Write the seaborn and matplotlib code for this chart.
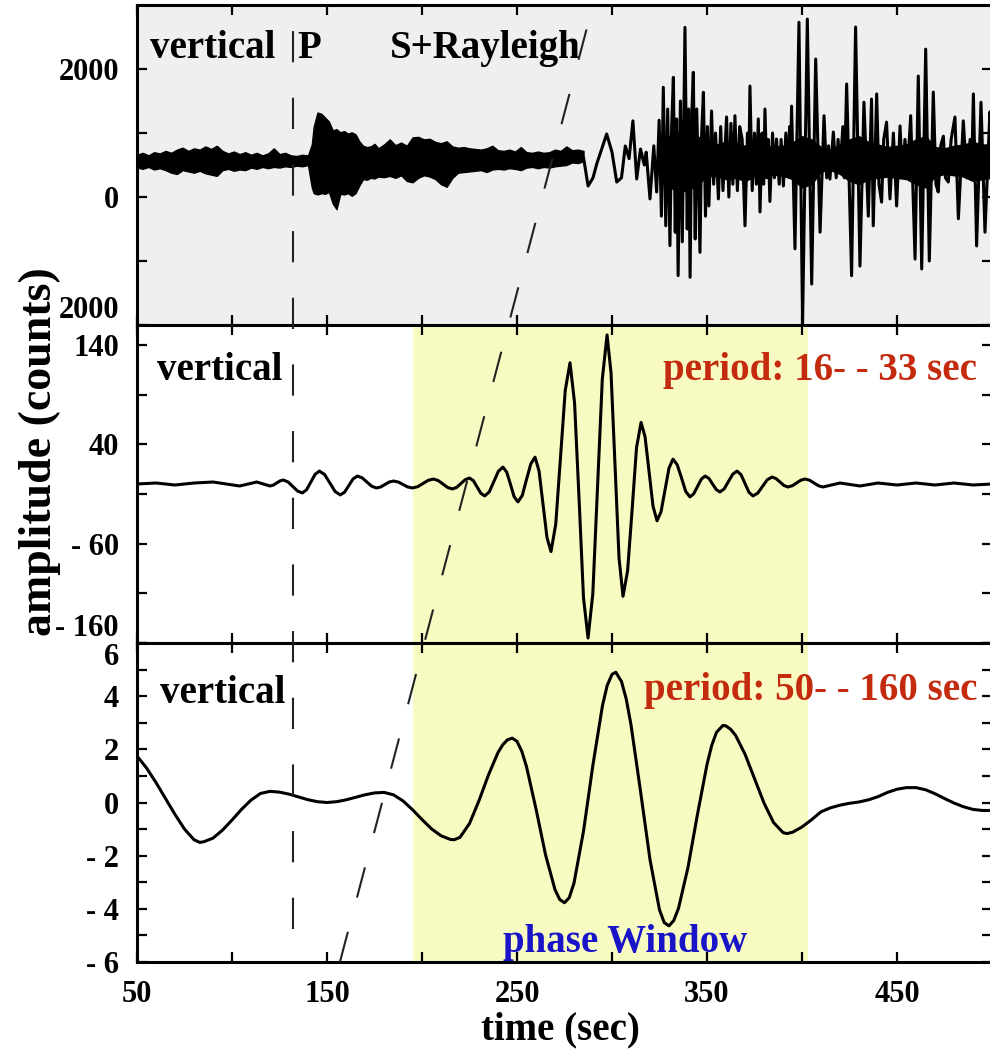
import matplotlib
matplotlib.use("Agg")
import matplotlib.pyplot as plt
import pandas as pd
import seaborn as sns

# ---------------- data ----------------
# top panel: noisy pre-event / P-coda band (envelope, counts)
noise_t = [50, 53, 56, 59, 62, 65, 68, 71, 74, 77, 80, 83, 86, 89, 92, 95, 98, 101, 104, 107,
           110, 113, 116, 119, 122, 125, 128, 131, 134, 137, 140, 142, 143, 145, 147, 149, 151,
           153, 155, 157, 159, 161, 163, 165, 167, 169, 171, 173, 175, 177, 180, 183, 186, 189,
           192, 195, 198, 201, 204, 207, 210, 213, 216, 219, 222, 225, 228, 231, 234, 237, 240,
           243, 246, 249, 252, 255, 258, 261, 264, 267, 270, 273, 276, 279, 282, 285]
noise_upper = [660, 690, 650, 700, 680, 720, 690, 740, 770, 720, 760, 740, 790, 750, 800, 720,
               680, 710, 670, 700, 660, 690, 650, 680, 760, 670, 690, 650, 640, 660, 650, 820,
               1100, 1320, 1300, 1240, 1180, 1040, 1060, 1010, 1030, 990, 1010, 980, 870, 800,
               780, 790, 830, 760, 820, 900, 810, 850, 800, 930, 940, 900, 910, 860, 840, 870,
               790, 770, 780, 760, 750, 740, 760, 800, 730, 720, 740, 710, 780, 700, 690, 710,
               690, 700, 740, 720, 790, 730, 740, 720]
noise_lower = [460, 440, 470, 430, 450, 420, 380, 360, 420, 400, 380, 410, 370, 350, 330, 420,
               440, 410, 430, 420, 460, 440, 470, 450, 470, 460, 480, 470, 490, 480, 500, 150,
               60, 40, 60, 50, 80, -100, -190, 50, 40, 60, 20, 60, 180, 280, 270, 300, 290, 320,
               310, 330, 300, 340, 250, 230, 300, 340, 320, 280, 200, 160, 300, 380, 390, 400,
               410, 420, 390, 430, 440, 430, 450, 440, 420, 460, 470, 450, 470, 460, 480, 490,
               500, 540, 530, 560]

# top panel: dense core of the surface-wave part (counts)
core_t = [325, 330, 335, 340, 345, 350, 355, 360, 365, 370, 375, 380, 385, 390, 395, 400, 405,
          410, 415, 420, 425, 430, 435, 440, 445, 450, 455, 460, 465, 470, 475, 480, 485, 490,
          495, 500]
core_upper = [850, 950, 1000, 1000, 950, 850, 820, 860, 840, 800, 860, 820, 780, 800, 850,
              950, 900, 780, 740, 820, 900, 950, 860, 820, 780, 800, 820, 900, 950, 780,
              760, 800, 820, 860, 820, 820]
core_lower = [250, 150, 100, 100, 200, 320, 330, 280, 300, 250, 320, 300, 350, 330, 280, 150,
              200, 400, 420, 360, 250, 200, 280, 300, 320, 300, 280, 200, 150, 320, 360, 340,
              320, 250, 280, 300]

# top panel: surface-wave trace, successive peaks / troughs (time s, counts)
raw_t = [285, 287.4, 290, 292, 294, 297.2, 300, 302.5, 305, 307, 309, 311, 313, 315, 317, 318,
         320, 322, 323.5, 324.8, 326.0, 327.0, 328.3, 329.3, 330.5, 331.4, 332.3, 333.3, 334.0,
         334.8, 336.0, 337.0, 338.4, 339.6, 340.3, 341.1, 342.0, 342.8, 343.8, 344.6, 346.3,
         347.2, 348.1, 349.2, 350.2, 351.0, 352.4, 353.5, 354.5, 356.0, 357.2, 358.4, 360.3,
         361.5, 362.6, 363.6, 364.7, 366.0, 367.2, 368.5, 370.0, 371.3, 372.0, 372.6, 373.8,
         375.0, 376.0, 377.0, 377.9, 379.0, 379.8, 380.5, 381.5, 382.2, 383.1, 384.5, 385.5,
         386.6, 388.0, 389.0, 390.2, 391.5, 392.5, 393.5, 394.0, 394.5, 396.3, 398.4, 400.3,
         402.8, 405.1, 407.2, 409.5, 411.6, 413.0, 414.0, 414.7, 416.5, 418.0, 419.0, 420.0,
         421.5, 422.3, 423.5, 426.1, 428.2, 430.5, 432.6, 434.9, 436.6, 437.5, 439.3, 440.5,
         441.9, 443.0, 444.5, 446.3, 448.1, 449.8, 451.6, 452.8, 454.2, 455.5, 457.2, 459.5,
         461.2, 463.0, 465.1, 467.0, 469.1, 470.5, 471.7, 473.0, 474.4, 475.5, 477.0, 478.5,
         480.5, 482.3, 484.9, 486.7, 488.5, 489.3, 490.2, 491.9, 494.2, 496.3, 498.9, 500]
raw_v = [620, 172, 300, 520, 700, 984, 700, 234, 300, 797, 600, 1190, 281, 750, 500, 700,
         -30, 800, 78, 1200, -300, 1714, -450, 1375, -760, 1100, 1870, -552, 1219,
         -1229, 1500, -700, 2651, -500, 1375, -1255, 1300, 1948, -656, 1375, -865,
         1000, 1636, -300, 1100, -140, 1344, 200, 1000, -30, 1100, 100, 1250,
         0, 1150, 200, 1270, 100, 1100, 900, -450, 1000, 300, 1734, 100,
         1000, 200, 1220, -234, 1000, 200, 1375, 300, 900, -70, 1000, 300,
         906, 200, 900, 172, 1000, 400, 1100, 500, 1420, -810, 2730, -1980,
         2780, -1360, 2156, -550, 1270, 300, 800, 280, 1015, 300, 900, 390,
         1100, 300, 1766, -1230, 2656, -1080, 1480, -300, 1530, -450, 1610, 200,
         -80, 900, 1170, -30, 1000, -140, 1110, 300, 900, 400, 1270, -970,
         1890, -1125, 2310, -1000, 1640, 200, 78, 800, 950, 300, 234, 900,
         1250, -340, 1190, 300, 900, 400, 1610, -765, 1480, -550, 1330, 400]

# middle panel: 16-33 s band-passed trace
mid_t = [50, 60, 70, 80, 90, 104, 113, 120, 121.75, 123.5, 125.25, 127, 129.5, 132, 134.5,
         137, 139.25, 141.5, 143.75, 146, 148.75, 151.5, 154.25, 157, 159.25, 161.5, 163.75,
         166, 168.5, 171, 173.5, 176, 178.25, 180.5, 182.75, 185, 187.5, 190, 192.5, 195,
         197.75, 200.5, 203.25, 206, 208.5, 211, 213.5, 216, 218.25, 220.5, 222.75, 225, 227,
         229, 231, 233, 235.4, 237.8, 240.2, 242.6, 244.6, 246.6, 248.5, 250.5, 252.8, 255,
         257.3, 259.5, 261.6, 263.7, 265.8, 267.9, 270.4, 272.9, 275.4, 277.9, 280.3, 282.7,
         285, 287.4, 289.9, 292.4, 294.9, 297.4, 299.5, 301.6, 303.7, 305.8, 308.2, 310.6,
         312.9, 315.3, 317.4, 319.5, 321.6, 323.7, 325.8, 327.9, 330, 332.1, 334.3, 336.6,
         338.8, 341, 343, 345, 347, 349, 351, 352.9, 354.9, 356.8, 359.05, 361.3, 363.55,
         365.8, 367.9, 370, 372.1, 374.2, 376.7, 379.2, 381.7, 384.2, 386.3, 388.4, 390.5,
         392.6, 394.85, 397.1, 399.35, 401.6, 404, 406.3, 408.7, 411, 420, 430.5, 440, 450,
         460, 470, 480, 490, 500]
mid_v = [0, 1, -1, 1, 2, -2, 2, -2, -1.1, 1, 3.1, 4, 2.1, -2.5, -7.1, -9, -5.8, 2, 9.8, 13,
         9.5, 1, -7.5, -11, -8.2, -1.5, 5.2, 8, 6.2, 2, -2.2, -4, -3, -0.5, 2, 3, 2, -0.5, -3,
         -4, -2.7, 0.5, 3.7, 5, 3.5, 0, -3.5, -5, -3.4, 0.5, 4.4, 6, 3.4, -3, -9.4, -12, -8,
         2.5, 12.8, 17, 11.9, -0.5, -12.9, -18, -11.4, 4.5, 20.4, 27, 13.1, -20.5, -54.1, -68,
         -40.3, 27, 94.3, 122, 81.6, -16.5, -114.6, -155, -110.5, -2.5, 105.5, 150, 111.6,
         18.5, -74.6, -113, -87.4, -25.5, 36.5, 62, 47.5, 12.5, -22.5, -37, -28, -6, 16, 25,
         19.5, 6, -7.5, -13, -9.9, -2.5, 4.9, 8, 5.7, 0, -5.7, -8, -4.9, 2.5, 9.9, 13, 9.4,
         0.5, -8.4, -12, -9.2, -2.5, 4.2, 7, 5.5, 2, -1.5, -3, -1.8, 1, 3.8, 5, 3.8, 1, -1.8,
         -3, 1, -2, 1, -1, 1, -1, 1, -1, 0]

# bottom panel: 50-160 s band-passed trace
low_t = [50, 55, 60, 65, 70, 75, 80, 83, 85, 90, 95, 100, 105, 110, 115, 120, 125, 130, 135,
         140, 145, 150, 155, 160, 165, 170, 175, 180, 185, 190, 195, 200, 205, 210, 215, 217,
         220, 225, 230, 235, 240, 242.5, 245, 247.5, 250, 252.5, 255, 260, 265, 270, 272.5,
         275, 277.5, 280, 285, 290, 295, 297.5, 300, 302, 305, 307.5, 310, 315, 320, 325,
         327.5, 330, 332.5, 335, 340, 345, 350, 352.5, 355, 358.4, 360, 362.5, 365, 370, 375,
         380, 385, 390, 392, 395, 400, 405, 410, 415, 420, 425, 430, 435, 440, 445, 450, 455,
         460, 465, 470, 475, 480, 485, 490, 495, 500]
low_v = [1.75, 1.3, 0.75, 0.15, -0.45, -1.0, -1.4, -1.5, -1.48, -1.34, -1.04, -0.66, -0.26,
         0.09, 0.34, 0.42, 0.39, 0.315, 0.21, 0.105, 0.03, 0.0, 0.03, 0.10, 0.195, 0.29, 0.36,
         0.38, 0.29, 0.06, -0.27, -0.64, -0.99, -1.25, -1.39, -1.4, -1.31, -0.79, 0.07, 1.04,
         1.88, 2.17, 2.36, 2.42, 2.30, 1.93, 1.35, -0.24, -1.96, -3.28, -3.65, -3.77, -3.58,
         -3.03, -1.08, 1.43, 3.65, 4.41, 4.82, 4.9, 4.55, 3.89, 2.92, 0.43, -2.15, -4.04,
         -4.52, -4.64, -4.44, -3.98, -2.44, -0.44, 1.43, 2.15, 2.64, 2.9, 2.88, 2.75, 2.53,
         1.82, 0.90, -0.02, -0.75, -1.13, -1.17, -1.12, -0.92, -0.65, -0.35, -0.2, -0.1,
         -0.03, 0.02, 0.1, 0.22, 0.38, 0.5, 0.56, 0.56, 0.48, 0.33, 0.15, -0.02, -0.16, -0.26,
         -0.3, -0.3]

# annotations
phase_window = [195, 403]
p_time = 132
p_span = [0.035, 1.0]            # fraction of the stacked panels' height
s_line_t = [156.8, 290]           # slanted S+Rayleigh marker, bottom -> top

x_ticks = [50, 100, 150, 200, 250, 300, 350, 400, 450, 500]
x_labels = ["50", "", "150", "", "250", "", "350", "", "450", ""]
top_ticks = [2000, 1000, 0, -1000, -2000]
top_labels = ["2000", "", "0", "", "2000"]
mid_ticks = [140, 90, 40, -10, -60, -110, -160]
mid_labels = ["140", "", "40", "", "- 60", "", "- 160"]
bot_ticks = [6, 5, 4, 3, 2, 1, 0, -1, -2, -3, -4, -5, -6]
bot_labels = ["6", "", "4", "", "2", "", "0", "", "- 2", "", "- 4", "", "- 6"]

# ---------------- styling ----------------
sns.set_style("ticks")
plt.rcParams['font.family'] = ['Liberation Serif', 'DejaVu Serif']
plt.rcParams['font.weight'] = 'bold'
plt.rcParams['axes.linewidth'] = 2.2
plt.rcParams['text.color'] = 'black'
plt.rcParams['axes.labelcolor'] = 'black'
plt.rcParams['xtick.color'] = 'black'
plt.rcParams['ytick.color'] = 'black'

fig = plt.figure(figsize=(9.9, 10.53), dpi=100)
L, W = 137 / 990, 855 / 990
ax_top = fig.add_axes([L, 1 - 325 / 1053, W, 320 / 1053])
ax_mid = fig.add_axes([L, 1 - 643 / 1053, W, 318 / 1053])
ax_bot = fig.add_axes([L, 1 - 962 / 1053, W, 319 / 1053])
ax_ov = fig.add_axes([L, 1 - 962 / 1053, W, 957 / 1053], zorder=10)

ax_top.set_facecolor('#efefef')
for ax in (ax_mid, ax_bot):
    ax.set_facecolor('white')
    ax.axvspan(phase_window[0], phase_window[1], color='#f8fbc1', lw=0, zorder=0)

# top trace
ax_top.fill_between(noise_t, noise_lower, noise_upper, color='black', lw=1.0, zorder=2)
ax_top.fill_between(core_t, core_lower, core_upper, color='black', lw=1.0, zorder=2)
df_raw = pd.DataFrame({"t": raw_t, "v": raw_v})
sns.lineplot(data=df_raw, x="t", y="v", ax=ax_top, color='black', lw=2.2,
             estimator=None, sort=False, zorder=3)

df_mid = pd.DataFrame({"t": mid_t, "v": mid_v})
sns.lineplot(data=df_mid, x="t", y="v", ax=ax_mid, color='black', lw=2.2,
             estimator=None, sort=False, zorder=3)
df_low = pd.DataFrame({"t": low_t, "v": low_v})
sns.lineplot(data=df_low, x="t", y="v", ax=ax_bot, color='black', lw=2.2,
             estimator=None, sort=False, zorder=3)

ax_top.set_ylim(-2000, 3000)
ax_mid.set_ylim(-160, 160)
ax_bot.set_ylim(-6, 6)
for ax in (ax_top, ax_mid, ax_bot, ax_ov):
    ax.set_xlim(50, 500)

ax_top.set_yticks(top_ticks, top_labels)
ax_mid.set_yticks(mid_ticks, mid_labels)
ax_bot.set_yticks(bot_ticks, bot_labels)

for ax in (ax_top, ax_mid, ax_bot):
    ax.set_xticks(x_ticks, x_labels)
    ax.tick_params(direction='in', length=7, width=1.6, top=True, right=True,
                   labelsize=22, pad=13, colors='black')
    ax.set_xlabel("")
    ax.set_ylabel("")
    for s in ax.spines.values():
        s.set_linewidth(2.2)
        s.set_color('black')
ax_top.tick_params(labelbottom=False)
ax_mid.tick_params(labelbottom=False)

for lbl in ax_top.get_yticklabels():
    if lbl.get_text() == "2000" and lbl.get_position()[1] < 0:
        lbl.set_va('bottom')
for lbl in ax_mid.get_yticklabels():
    if lbl.get_text() == "- 160":
        lbl.set_va('bottom')
for lbl in ax_bot.get_yticklabels():
    if lbl.get_text() == "6":
        lbl.set_va('top')

# marker lines across panels
ax_ov.set_ylim(0, 1)
ax_ov.set_axis_off()
ax_ov.patch.set_alpha(0)
sns.lineplot(x=[p_time, p_time], y=p_span, ax=ax_ov, color='#222222', lw=1.5,
             linestyle=(0, (15, 17)), estimator=None, sort=False)
sns.lineplot(x=s_line_t, y=[0, 1], ax=ax_ov, color='#222222', lw=1.5,
             linestyle=(0, (15, 17)), estimator=None, sort=False)

# texts
fs = 28
ax_top.text(0.015, 0.834, "vertical", transform=ax_top.transAxes, fontsize=fs,
            fontweight='bold', va='baseline', ha='left', color='black')
ax_top.text(0.188, 0.834, "P", transform=ax_top.transAxes, fontsize=fs,
            fontweight='bold', va='baseline', ha='left', color='black')
ax_top.text(0.296, 0.834, "S+Rayleigh", transform=ax_top.transAxes, fontsize=fs,
            fontweight='bold', va='baseline', ha='left', color='black')
ax_mid.text(0.023, 0.827, "vertical", transform=ax_mid.transAxes, fontsize=fs,
            fontweight='bold', va='baseline', ha='left', color='black')
ax_mid.text(0.982, 0.827, "period: 16- - 33 sec", transform=ax_mid.transAxes, fontsize=fs,
            fontweight='bold', va='baseline', ha='right', color='#c42a0e')
ax_bot.text(0.027, 0.812, "vertical", transform=ax_bot.transAxes, fontsize=fs,
            fontweight='bold', va='baseline', ha='left', color='black')
ax_bot.text(0.983, 0.821, "period: 50- - 160 sec", transform=ax_bot.transAxes, fontsize=fs,
            fontweight='bold', va='baseline', ha='right', color='#c42a0e')
ax_bot.text(0.571, 0.031, "phase Window", transform=ax_bot.transAxes, fontsize=fs,
            fontweight='bold', va='baseline', ha='center', color='#1a14c8')

fig.text(40 / 990, 1 - 452 / 1053, "amplitude (counts)", rotation=90, fontsize=33,
         fontweight='bold', ha='center', va='center', color='black')
fig.text(560 / 990, 1 - 1030 / 1053, "time (sec)", fontsize=28, fontweight='bold',
         ha='center', va='center', color='black')

fig.savefig("out.png", dpi=100)
